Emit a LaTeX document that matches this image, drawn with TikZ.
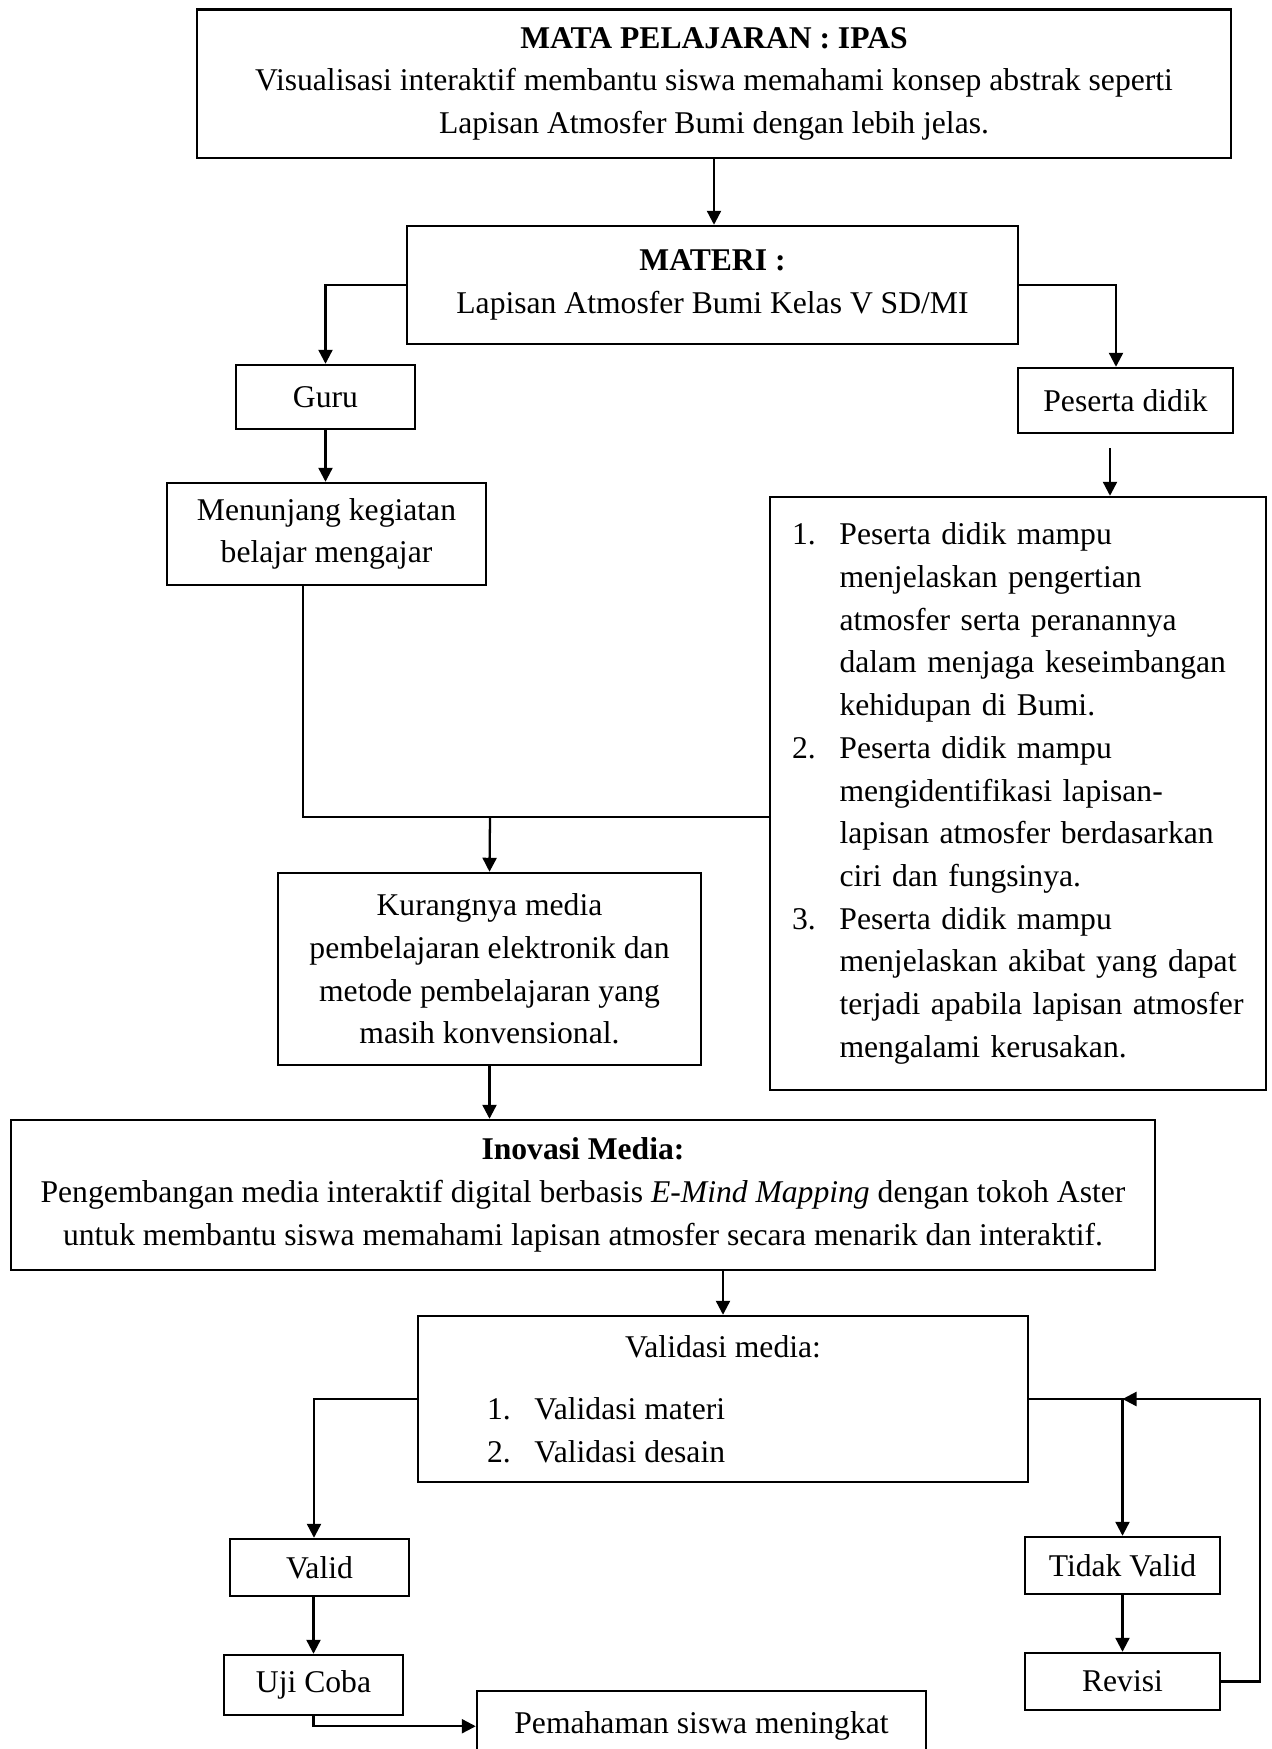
\documentclass[tikz,border=0pt]{standalone}
\usepackage{fontspec}
\setmainfont{Liberation Serif}
\usetikzlibrary{arrows.meta, positioning, calc}
\newcommand{\butir}[1]{\makebox[0.95cm][l]{#1}}
\newcommand{\lanjut}{\hspace*{0.95cm}}

\begin{document}
\begin{tikzpicture}[line join=miter, >={Triangle[length=2.8mm,width=2.8mm]}, every node/.style={font=\fontsize{18}{24.3}\selectfont}, box/.style={draw, line width=1.4pt, align=center, inner sep=0pt}, link/.style={line width=1.3pt}]
	\useasboundingbox (0,0) rectangle (25.44,-34.98);
	% boxes
	\node[box, minimum width=20.68cm, minimum height=2.97cm] (mapel) at (14.28,-1.675) {\textbf{MATA PELAJARAN : IPAS}\\ Visualisasi interaktif membantu siswa memahami konsep abstrak seperti\\ Lapisan Atmosfer Bumi dengan lebih jelas.};
	\node[box, minimum width=12.22cm, minimum height=2.36cm] (materi) at (14.25,-5.70) {\textbf{MATERI :}\\ Lapisan Atmosfer Bumi Kelas V SD/MI};
	\node[box, minimum width=3.58cm, minimum height=1.28cm] (guru) at (6.51,-7.94) {Guru};
	\node[box, minimum width=4.30cm, minimum height=1.30cm] (peserta) at (22.51,-8.01) {Peserta didik};
	\node[box, minimum width=6.38cm, minimum height=2.04cm] (menunjang) at (6.53,-10.68) {Menunjang kegiatan\\ belajar mengajar};
	\node[box, align=left, text width=9.04cm, minimum width=9.92cm, minimum height=11.86cm] (tujuan) at (20.36,-15.87) {\butir{1.}Peserta didik mampu\\ \lanjut menjelaskan pengertian\\ \lanjut atmosfer serta peranannya\\ \lanjut dalam menjaga keseimbangan\\ \lanjut kehidupan di Bumi.\\ \butir{2.}Peserta didik mampu\\ \lanjut mengidentifikasi lapisan-\\ \lanjut lapisan atmosfer berdasarkan\\ \lanjut ciri dan fungsinya.\\ \butir{3.}Peserta didik mampu\\ \lanjut menjelaskan akibat yang dapat\\ \lanjut terjadi apabila lapisan atmosfer\\ \lanjut mengalami kerusakan.};
	\node[box, minimum width=8.46cm, minimum height=3.84cm] (kurang) at (9.79,-19.38) {Kurangnya media\\ pembelajaran elektronik dan\\ metode pembelajaran yang\\ masih konvensional.};
	\node[box, minimum width=22.88cm, minimum height=3.00cm] (inovasi) at (11.66,-23.90) {\textbf{Inovasi Media:}\\ Pengembangan media interaktif digital berbasis \textit{E-Mind Mapping} dengan tokoh Aster\\ untuk membantu siswa memahami lapisan atmosfer secara menarik dan interaktif.};
	\node[box, minimum width=12.20cm, minimum height=3.32cm] (validasi) at (14.46,-27.98) {Validasi media:\\[0.4cm] \makebox[9.44cm][l]{\butir{1.}Validasi materi}\\ \makebox[9.44cm][l]{\butir{2.}Validasi desain}};
	\node[box, minimum width=3.58cm, minimum height=1.14cm] (valid) at (6.39,-31.35) {Valid};
	\node[box, minimum width=3.58cm, minimum height=1.20cm] (uji) at (6.27,-33.70) {Uji Coba};
	\node[box, anchor=north, minimum width=8.98cm, minimum height=1.40cm] (paham) at (14.03,-33.80) {Pemahaman siswa meningkat};
	\node[box, minimum width=3.90cm, minimum height=1.14cm] (tidak) at (22.45,-31.31) {Tidak Valid};
	\node[box, minimum width=3.90cm, minimum height=1.14cm] (revisi) at (22.45,-33.63) {Revisi};
	% connectors
	\draw[link, ->] (mapel.south) -- (mapel.south |- materi.north);
	\draw[link, ->] (materi.west) -| (guru.north);
	\draw[link, ->] (materi.east) -| ([xshift=-1.9mm]peserta.north);
	\draw[link, ->] (guru.south) -- (guru.south |- menunjang.north);
	\draw[link, ->] ([xshift=-3.1mm, yshift=-2.8mm]peserta.south) -- ([xshift=-3.1mm]peserta.south |- tujuan.north);
	\coordinate (simpul) at (9.80,-16.34);
	\draw[link] ([xshift=-4.7mm]menunjang.south) |- (simpul) -- (simpul -| tujuan.west);
	\draw[link, ->] (simpul) -- (kurang.north);
	\draw[link, ->] (kurang.south) -- (kurang.south |- inovasi.north);
	\draw[link, ->] (validasi.north |- inovasi.south) -- (validasi.north);
	\draw[link, ->] (validasi.west) -| ([xshift=-1.1mm]valid.north);
	\draw[link, ->] (uji.north |- valid.south) -- (uji.north);
	\draw[link, ->] (uji.south) |- (paham.west);
	\coordinate (sudut) at (validasi.east -| tidak.north);
	\draw[link, ->] (validasi.east) -| (tidak.north);
	\draw[link, ->] (tidak.south) -- (revisi.north);
	\draw[link, ->] (revisi.east) -- ++(0.78,0) |- (sudut);
\end{tikzpicture}
\end{document}
